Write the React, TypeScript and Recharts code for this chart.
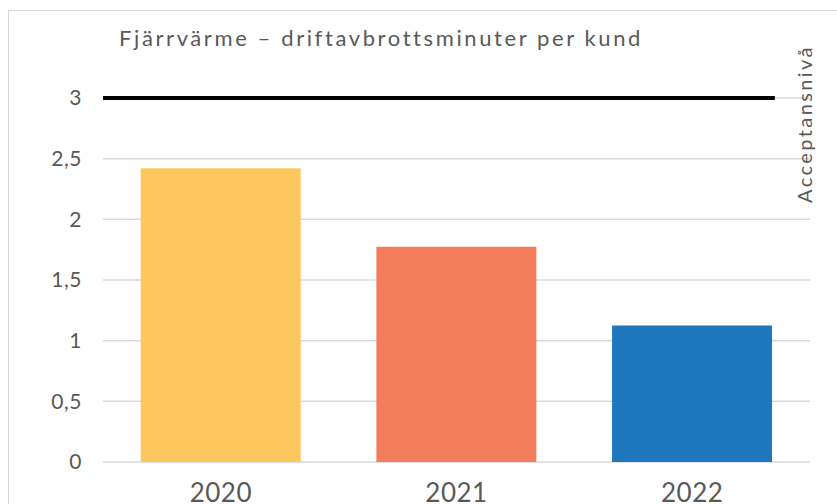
import React from "react";
import {
  ComposedChart,
  Bar,
  Line,
  XAxis,
  YAxis,
  CartesianGrid,
  Cell,
} from "recharts";

const years = ["2020", "2021", "2022"];
const minutes = [2.42, 1.775, 1.124];
const barColors = ["#FDC75F", "#F37D5B", "#1F77BD"];
const yTicks = [0, 0.5, 1, 1.5, 2, 2.5, 3];
const acceptX = [0, 2.851];
const acceptY = [3, 3];
const title = "Fjärrvärme – driftavbrottsminuter per kund";
const acceptLabel = "Acceptansnivå";

const data = years.map((y, i) => ({ year: y, value: minutes[i] }));
const acceptData = acceptX.map((x, i) => ({ x, y: acceptY[i] }));

const FONT = "Lato, 'Noto Sans', sans-serif";
const GRAY = "#595959";

export default function App() {
  return (
    <div
      style={{
        position: "absolute",
        left: 0,
        top: 0,
        width: 837,
        height: 504,
        overflow: "hidden",
        background: "#fff",
      }}
    >
      <div
        style={{
          position: "absolute",
          left: 8,
          top: 10,
          width: 900,
          height: 600,
          border: "1.5px solid #d9d9d9",
        }}
      />
      <div style={{ position: "absolute", left: 0, top: 0 }}>
        <ComposedChart
          width={837}
          height={504}
          data={data}
          margin={{ top: 98, right: 27, bottom: 0, left: 0 }}
          barCategoryGap="16%"
        >
          <CartesianGrid
            vertical={false}
            stroke="#d9d9d9"
            strokeWidth={1.5}
          />
          <XAxis
            dataKey="year"
            axisLine={false}
            tickLine={false}
            tickSize={0}
            tickMargin={22}
            height={42}
            tick={{ fill: GRAY, fontSize: 26, fontFamily: FONT, letterSpacing: 0.5 }}
          />
          <XAxis
            xAxisId="acc"
            type="number"
            dataKey="x"
            domain={[0, 3]}
            hide
          />
          <YAxis
            domain={[0, 3]}
            ticks={yTicks}
            width={103}
            axisLine={false}
            tickLine={false}
            tickSize={0}
            tickMargin={21}
            interval={0}
            tickFormatter={(v: number) => String(v).replace(".", ",")}
            tick={{ fill: GRAY, fontSize: 21, fontFamily: FONT, letterSpacing: 0.5 }}
          />
          <Bar dataKey="value" isAnimationActive={false}>
            {data.map((d, i) => (
              <Cell key={d.year} fill={barColors[i]} />
            ))}
          </Bar>
          <Line
            xAxisId="acc"
            data={acceptData}
            dataKey="y"
            stroke="#000"
            strokeWidth={4}
            dot={false}
            activeDot={false}
            isAnimationActive={false}
          />
        </ComposedChart>
      </div>
      <svg
        width={837}
        height={504}
        style={{ position: "absolute", left: 0, top: 0, pointerEvents: "none" }}
      >
        <text
          x={119}
          y={46}
          fill={GRAY}
          fontSize={22}
          fontFamily={FONT}
          letterSpacing={2.6}
        >
          {title}
        </text>
        <text
          x={812}
          y={124}
          transform="rotate(-90 812 124)"
          textAnchor="middle"
          fill={GRAY}
          fontSize={20}
          fontFamily={FONT}
          letterSpacing={2.4}
        >
          {acceptLabel}
        </text>
      </svg>
    </div>
  );
}
